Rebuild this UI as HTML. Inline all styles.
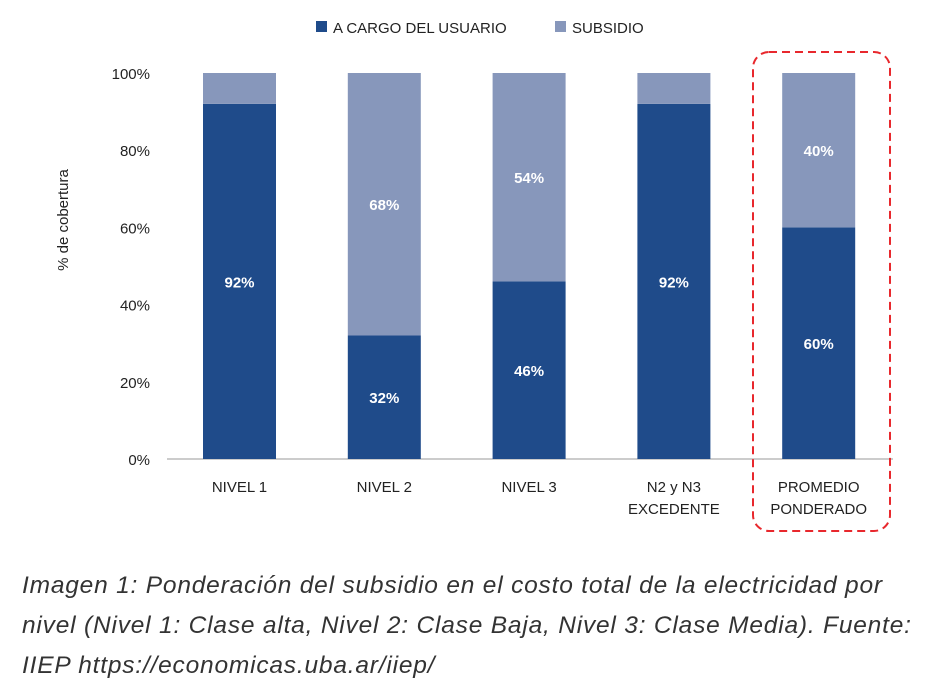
<!DOCTYPE html>
<html><head><meta charset="utf-8">
<style>
body{margin:0;background:#fff;width:938px;height:698px;overflow:hidden;font-family:"Liberation Sans",sans-serif;}
.cap{position:absolute;left:22px;top:566px;width:916px;font-style:italic;font-size:24.5px;line-height:40px;color:#333;white-space:nowrap;letter-spacing:0.8px;}
</style></head><body>
<svg id="chart" width="938" height="560" style="position:absolute;left:0;top:0" font-family="Liberation Sans, sans-serif"></svg>
<div class="cap">Imagen 1: Ponderación del subsidio en el costo total de la electricidad por<br>nivel (Nivel 1: Clase alta, Nivel 2: Clase Baja, Nivel 3: Clase Media). Fuente:<br>IIEP https://economicas.uba.ar/iiep/</div>
<script>
const categories=[["NIVEL 1"],["NIVEL 2"],["NIVEL 3"],["N2 y N3","EXCEDENTE"],["PROMEDIO","PONDERADO"]];
const usuario=[92,32,46,92,60];
const subsidio=[8,68,54,8,40];
const showUsuario=[true,true,true,true,true];
const showSubsidio=[false,true,true,false,true];
const yTicks=[0,20,40,60,80,100];
const NS="http://www.w3.org/2000/svg";
const svg=document.getElementById('chart');
const y0=459,yTop=73;
const y=v=>y0-(y0-yTop)*v/100;
const x=i=>239.5+i*144.8;
const bw=73;
const DARK="#1f4b8a",LIGHT="#8797bb";
function mk(t,a,txt){const e=document.createElementNS(NS,t);for(const k in a)e.setAttribute(k,a[k]);if(txt!==undefined)e.textContent=txt;svg.appendChild(e);return e;}
yTicks.forEach(v=>{const t=mk('text',{x:150,y:y(v)+6,'text-anchor':'end','font-size':15,fill:'#222'},v+'%');

});
const ax=mk('line',{x1:167,x2:893,y1:y0,y2:y0,stroke:'#bbb','stroke-width':1.5});


const yt=mk('text',{x:0,y:0,transform:'translate(68,220) rotate(-90)','text-anchor':'middle','font-size':15,fill:'#222'},'% de cobertura');


categories.forEach((c,i)=>{
 const cx=x(i);
 const r1=mk('rect',{x:cx-bw/2,y:y(usuario[i]),width:bw,height:y0-y(usuario[i]),fill:DARK});
 
 
 const r2=mk('rect',{x:cx-bw/2,y:y(usuario[i]+subsidio[i]),width:bw,height:y(usuario[i])-y(usuario[i]+subsidio[i]),fill:LIGHT});
 
 
 if(showUsuario[i]){const t=mk('text',{x:cx,y:(y0+y(usuario[i]))/2+6,'text-anchor':'middle','font-size':15,'font-weight':'bold',fill:'#fff'},usuario[i]+'%');
 
 }
 if(showSubsidio[i]){const t=mk('text',{x:cx,y:(y(usuario[i])+y(usuario[i]+subsidio[i]))/2+6,'text-anchor':'middle','font-size':15,'font-weight':'bold',fill:'#fff'},subsidio[i]+'%');
 
 }
 c.forEach((l,j)=>{const t=mk('text',{x:cx,y:492+j*22,'text-anchor':'middle','font-size':15,fill:'#222'},l);
 
 });
});
const hl=mk('rect',{x:753,y:52,width:137,height:479,rx:16,fill:'none',stroke:'#e8282d','stroke-width':2,'stroke-dasharray':'8 5'});


const l1=mk('rect',{x:316,y:21,width:11,height:11,fill:DARK});


const lt1=mk('text',{x:333,y:33,'font-size':15,fill:'#222'},'A CARGO DEL USUARIO');


const l2=mk('rect',{x:555,y:21,width:11,height:11,fill:LIGHT});


const lt2=mk('text',{x:572,y:33,'font-size':15,fill:'#222'},'SUBSIDIO');


</script>
</body></html>
